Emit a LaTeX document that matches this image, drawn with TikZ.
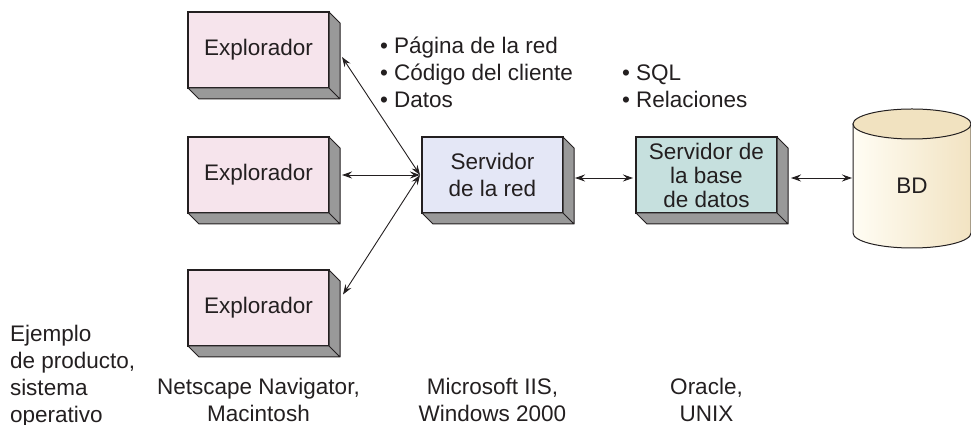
\documentclass[tikz,border=0pt]{standalone}
\usepackage{fontspec}
\setmainfont{Liberation Sans}
\usetikzlibrary{arrows.meta, positioning, calc, backgrounds}
\definecolor{explpink}{RGB}{246,228,236}
\definecolor{srvblue}{RGB}{228,231,246}
\definecolor{dbteal}{RGB}{198,224,222}
\definecolor{sidegray}{RGB}{153,153,153}
\definecolor{cylleft}{RGB}{255,253,244}
\definecolor{cylright}{RGB}{242,227,194}
\definecolor{cyltop}{RGB}{241,226,192}
\definecolor{ink}{RGB}{35,31,32}

\begin{document}
\begin{tikzpicture}[
    x=1pt, y=1pt,
    >={Stealth[length=10pt, width=7pt, inset=3.5pt]},
    font=\fontsize{22.5}{27}\selectfont,
    text=ink,
    side face/.style={draw=ink, line width=1pt, fill=sidegray, line join=round,
        to path={-- ++(11,-11) -- ++(0,-76) -- ++(-141,0) -- ++(-11,11) -- (\tikztotarget) -- cycle (\tikztotarget) -- ++(11,-11)}},
    box/.style={draw=ink, line width=1.2pt, minimum width=141pt, minimum height=76pt, inner sep=0pt, outer sep=0pt, align=center,
        append after command={(\tikzlastnode.north east) edge[side face] (\tikzlastnode.south east)}},
    link/.style={<->, draw=ink, line width=0.9pt},
    txt/.style={inner sep=0pt, outer sep=0pt, align=left},
]
    \useasboundingbox (0,0) rectangle (971,425);

    \node[box, fill=explpink] (exp1) at (258.5,375) {Explorador};
    \node[box, fill=explpink, below=49pt of exp1] (exp2) {Explorador};
    \node[box, fill=explpink, below=57pt of exp2] (exp3) {Explorador};
    \node[box, fill=srvblue, right=93pt of exp2] (srv) {Servidor\\de la red};
    \node[box, fill=dbteal, right=73pt of srv, font=\fontsize{22.5}{24}\selectfont] (dbs) {Servidor de\\la base\\de datos};

    % base de datos
    \node[minimum width=118pt, minimum height=124pt, inner sep=0pt, outer sep=0pt] (bd) at (912,239) {BD};
    \begin{pgfonlayer}{background}
        \shade[left color=cylleft, right color=cylright, draw=ink, line width=1pt]
            (bd.north west) -- ([yshift=15pt]bd.south west)
            arc[start angle=180, end angle=360, x radius=59, y radius=15]
            -- (bd.north east) -- cycle;
        \filldraw[fill=cyltop, draw=ink, line width=1pt] (bd.north) ellipse [x radius=59, y radius=15];
    \end{pgfonlayer}

    \draw[link] ([xshift=13pt,yshift=-7pt]exp1.east) -- ([xshift=-2pt]srv.west);
    \draw[link] ([xshift=13pt]exp2.east) -- ([xshift=-2pt]srv.west);
    \draw[link] ([xshift=14pt,yshift=13.5pt]exp3.east) -- ([xshift=-2pt]srv.west);
    \draw[link] ([xshift=12pt,yshift=-3pt]srv.east) -- ([xshift=-3pt,yshift=-3pt]dbs.west);
    \draw[link] ([xshift=14pt,yshift=-3pt]dbs.east) -- ([xshift=-1pt,yshift=8pt]bd.west);

    \node[txt, anchor=north west] (web) at (380,388) {• Página de la red\\• Código del cliente\\• Datos};
    \node[txt, anchor=north west] (sql) at (622,360) {• SQL\\• Relaciones};

    \node[txt, anchor=north west] (ejemplo) at (10,100) {Ejemplo\\de producto,\\sistema\\operativo};
    \node[txt, align=center, below=32pt of exp3] (nav) {Netscape Navigator,\\Macintosh};
    \node[txt, align=center, anchor=north] (iis) at (srv |- nav.north) {Microsoft IIS,\\Windows 2000};
    \node[txt, align=center, anchor=north] (ora) at (dbs |- nav.north) {Oracle,\\UNIX};
\end{tikzpicture}
\end{document}
